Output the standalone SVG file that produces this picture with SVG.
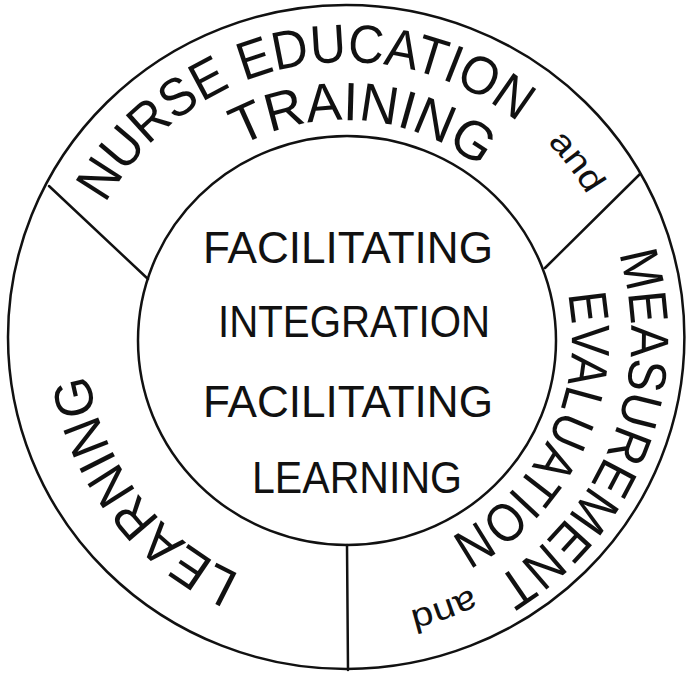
<svg xmlns="http://www.w3.org/2000/svg" width="686" height="674" viewBox="0 0 686 674">
<style>
.ln{fill:none;stroke:#111;stroke-width:2.5;stroke-linecap:round}
.ring{font-family:"Liberation Sans",Arial,sans-serif;font-size:54px;fill:#111}
.sm{font-family:"Liberation Sans",Arial,sans-serif;font-size:34px;fill:#111}
.ctr{font-family:"Liberation Sans",Arial,sans-serif;font-size:45px;fill:#111}
</style>
<defs>
<path id="pNurse" d="M105.5,203.7 A275,275 0 0 1 519.1,123.3"/>
<path id="pTrain" d="M240.3,146.3 A218,218 0 0 1 481.9,169.1"/>
<path id="pAnd1" d="M547.4,142.5 A280,280 0 0 1 588.5,197"/>
<path id="pMeas" d="M618.5,253.7 A285,285 0 0 1 492.8,581.3"/>
<path id="pEval" d="M567.8,293.9 A226,226 0 0 1 448.6,538.4"/>
<path id="pAnd2" d="M471.4,588.5 A281,281 0 0 1 406.8,611.3"/>
<path id="pLearn" d="M240.3,574.5 A260,260 0 0 1 88.5,373.2"/>
</defs>
<rect width="686" height="674" fill="#fff"/>
<g id="rings">
<ellipse class="ln" cx="346.2" cy="337" rx="338.2" ry="332"/>
<ellipse class="ln" cx="347" cy="340.5" rx="209" ry="204.5"/>
</g>
<g id="connectors">
<line class="ln" x1="49" y1="186" x2="148" y2="279"/>
<line class="ln" x1="640" y1="174" x2="545" y2="268"/>
<line class="ln" x1="347" y1="545" x2="348" y2="670"/>
</g>
<g id="center">
<text class="ctr" x="203" y="263" textLength="290" lengthAdjust="spacingAndGlyphs">FACILITATING</text>
<text class="ctr" x="218" y="337" textLength="272" lengthAdjust="spacingAndGlyphs">INTEGRATION</text>
<text class="ctr" x="203" y="417" textLength="290" lengthAdjust="spacingAndGlyphs">FACILITATING</text>
<text class="ctr" x="252" y="493" textLength="210" lengthAdjust="spacingAndGlyphs">LEARNING</text>
</g>
<g id="nurse-education">
<text class="ring"><textPath href="#pNurse" textLength="478" lengthAdjust="spacingAndGlyphs">NURSE EDUCATION</textPath></text>
<text class="ring"><textPath href="#pTrain" textLength="255" lengthAdjust="spacingAndGlyphs">TRAINING</textPath></text>
<text class="sm"><textPath href="#pAnd1" textLength="66" lengthAdjust="spacingAndGlyphs">and</textPath></text>
</g>
<g id="measurement-evaluation">
<text class="ring"><textPath href="#pMeas" textLength="376" lengthAdjust="spacingAndGlyphs">MEASUREMENT</textPath></text>
<text class="ring"><textPath href="#pEval" textLength="290" lengthAdjust="spacingAndGlyphs">EVALUATION</textPath></text>
<text class="sm"><textPath href="#pAnd2" textLength="66" lengthAdjust="spacingAndGlyphs">and</textPath></text>
</g>
<g id="learning">
<text class="ring"><textPath href="#pLearn" textLength="262" lengthAdjust="spacingAndGlyphs">LEARNING</textPath></text>
</g>
</svg>
